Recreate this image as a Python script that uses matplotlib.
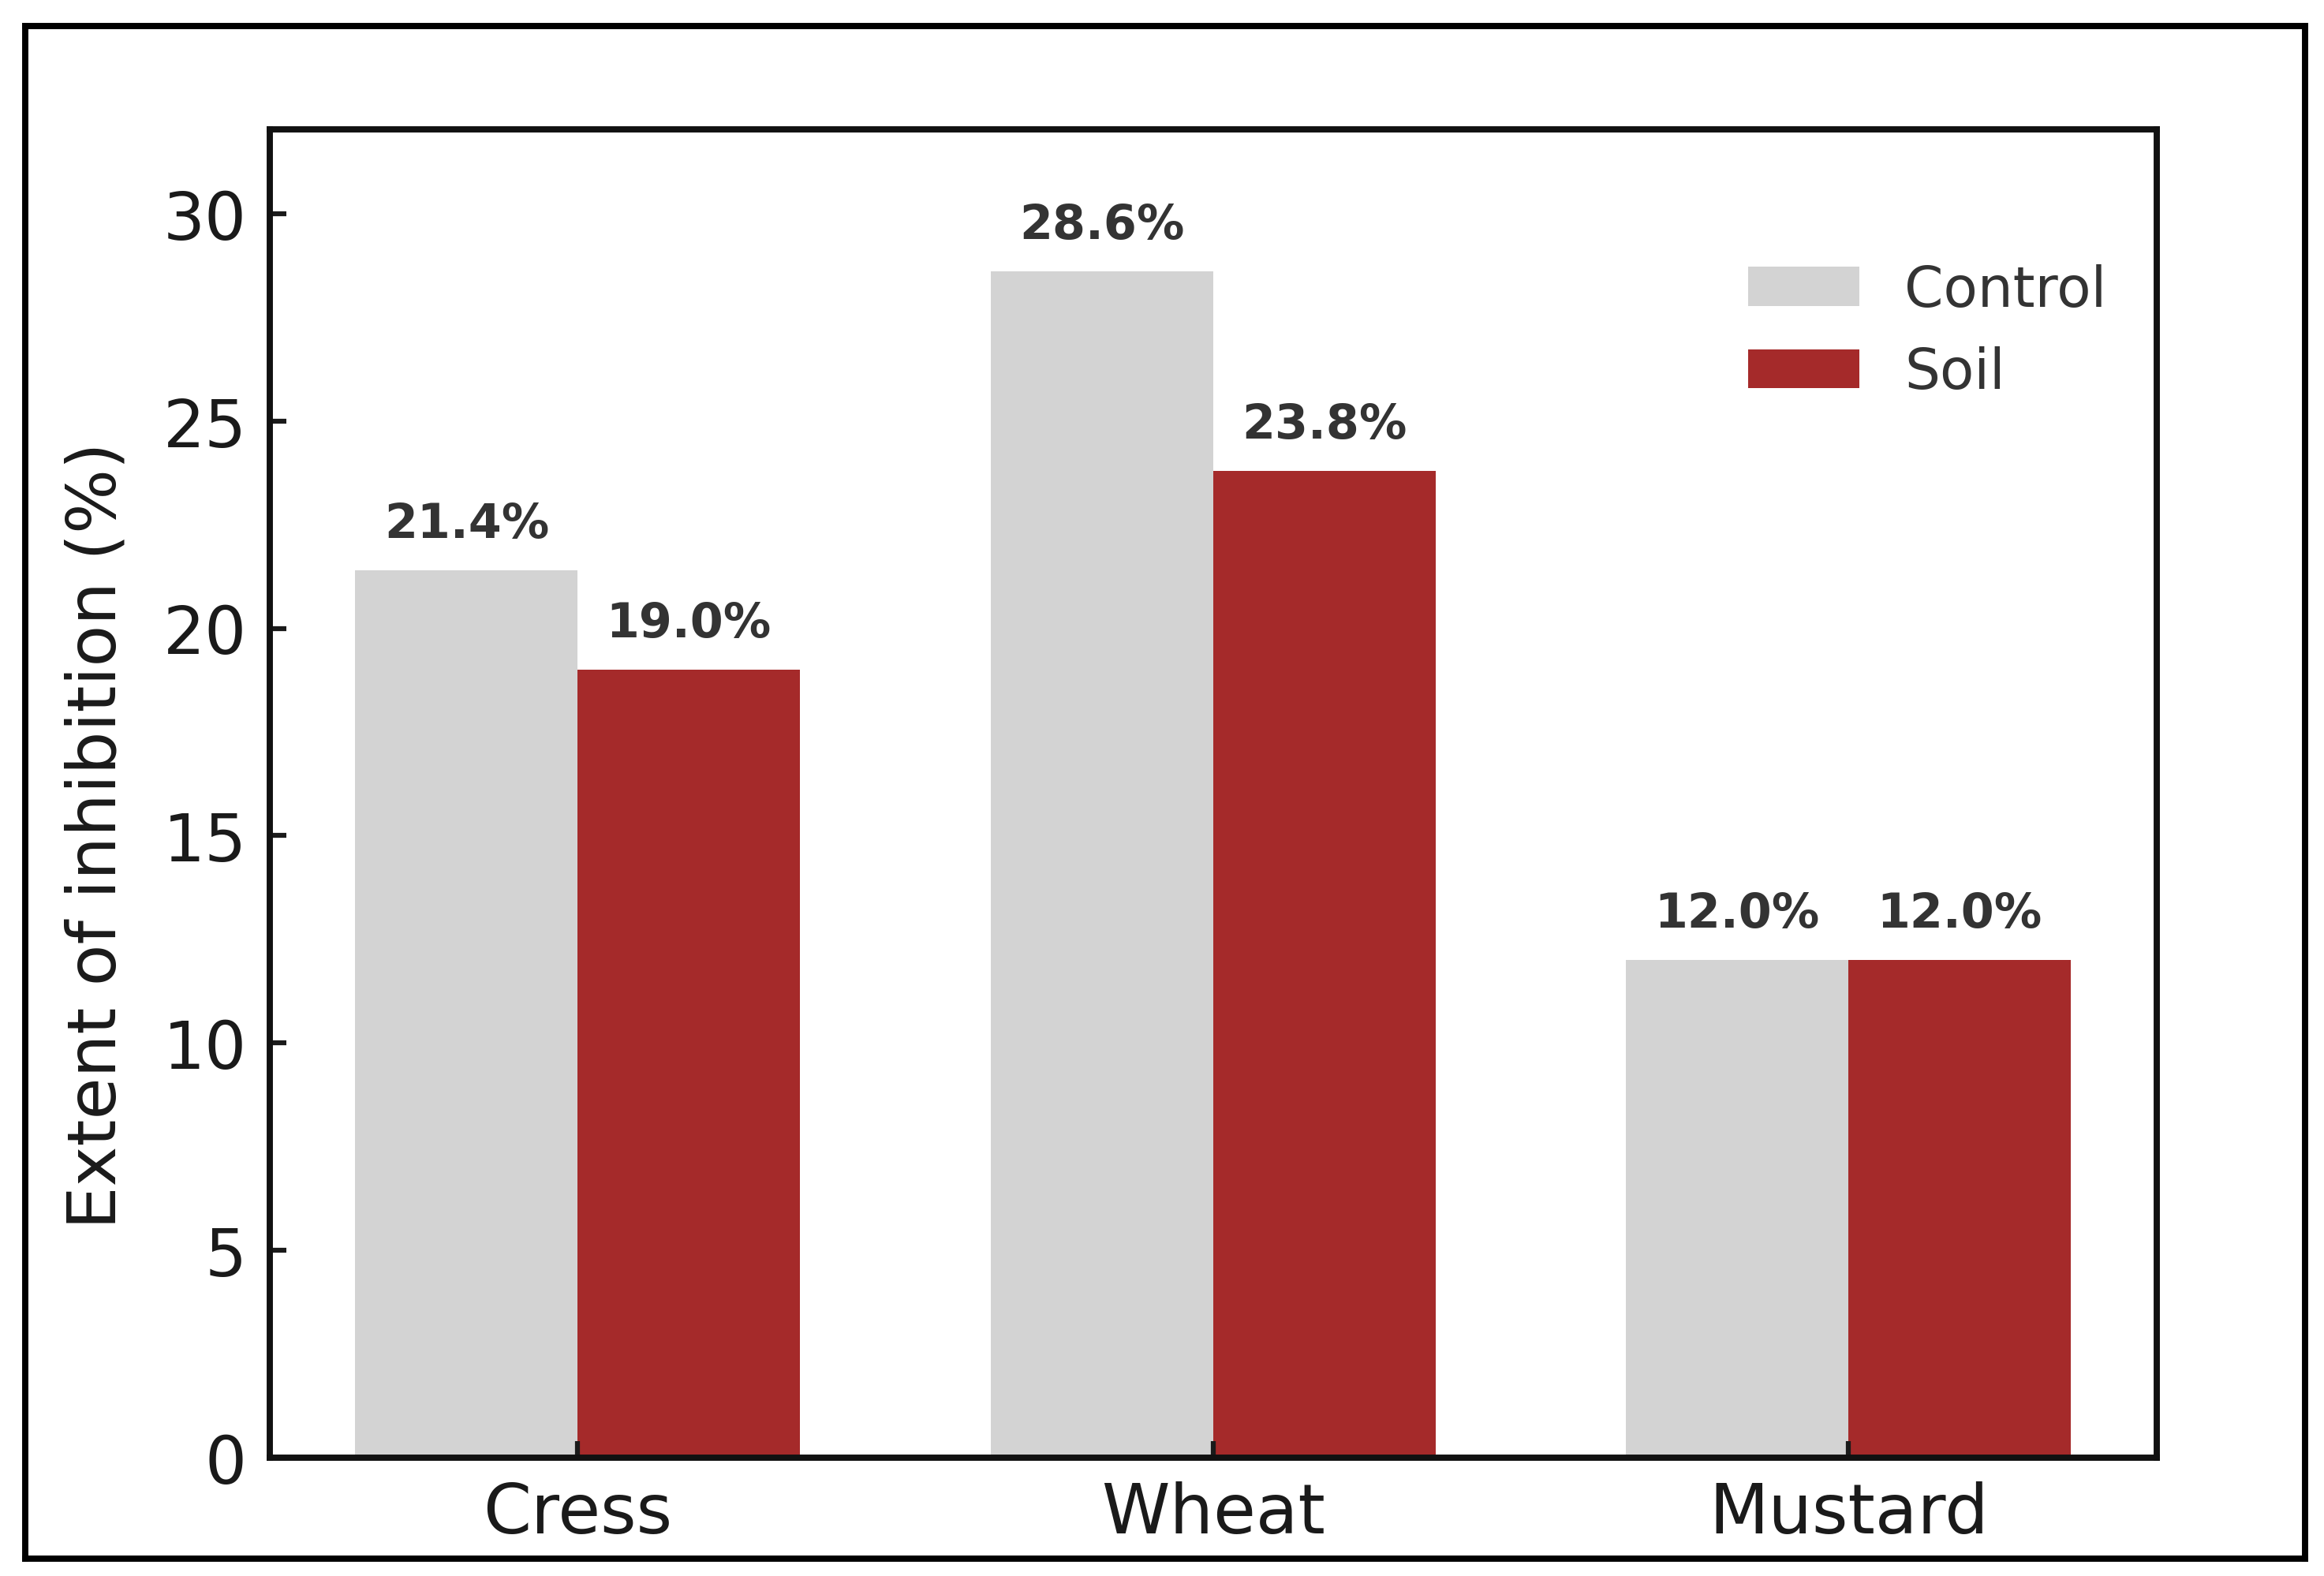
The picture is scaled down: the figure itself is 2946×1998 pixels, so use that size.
import matplotlib.pyplot as plt
import numpy as np
from matplotlib.lines import Line2D

# Data
crops = ['Cress', 'Wheat', 'Mustard']
control = [21.4, 28.6, 12.0]
soil = [19.0, 23.8, 12.0]

plt.rcParams['font.family'] = ['DejaVu Sans']

fig = plt.figure(figsize=(9.82, 6.663), dpi=300)
ax = fig.add_axes([0.116, 0.075, 0.812, 0.8425])

x = np.arange(len(crops))
width = 0.35
b1 = ax.bar(x - width / 2, control, width, color='lightgray', label='Control', zorder=1)
b2 = ax.bar(x + width / 2, soil, width, color='brown', label='Soil', zorder=1)

# Value labels above bars
for bars, vals in [(b1, control), (b2, soil)]:
    for bar, v in zip(bars, vals):
        ax.text(bar.get_x() + bar.get_width() / 2, v + 0.55, f'{v:.1f}%',
                ha='center', va='bottom', fontsize=14.5, fontweight='bold',
                color='#333333')

ax.set_xlim(-0.485, 2.485)
ax.set_ylim(0, max(control) * 1.12)
ax.set_xticks(x)
ax.set_xticklabels(crops)
ax.set_yticks(np.arange(0, 31, 5))
ax.tick_params(axis='both', direction='in', length=5, width=1.5, pad=7,
               colors='#1a1a1a', labelsize=20)
ax.tick_params(axis='x', labelsize=21)
ax.set_ylabel('Extent of inhibition (%)', fontsize=20.7, color='#1a1a1a')
ax.yaxis.set_label_coords(-0.074, 0.469)

for s in ax.spines.values():
    s.set_linewidth(1.9)
    s.set_color('#111111')
    s.set_zorder(3)

ax.legend(loc='upper right', bbox_to_anchor=(1.0, 0.937), frameon=False,
          fontsize=17, labelcolor='#333333')

# Outer frame around the whole figure
fx0, fx1, fy0, fy1 = 0.011, 0.992, 0.011, 0.983
for xs, ys in [([fx0, fx1], [fy1, fy1]), ([fx0, fx1], [fy0, fy0]),
               ([fx0, fx0], [fy0, fy1]), ([fx1, fx1], [fy0, fy1])]:
    fig.add_artist(Line2D(xs, ys, transform=fig.transFigure, color='black',
                          linewidth=1.9, solid_capstyle='projecting'))

fig.savefig('out.png', dpi=300)
